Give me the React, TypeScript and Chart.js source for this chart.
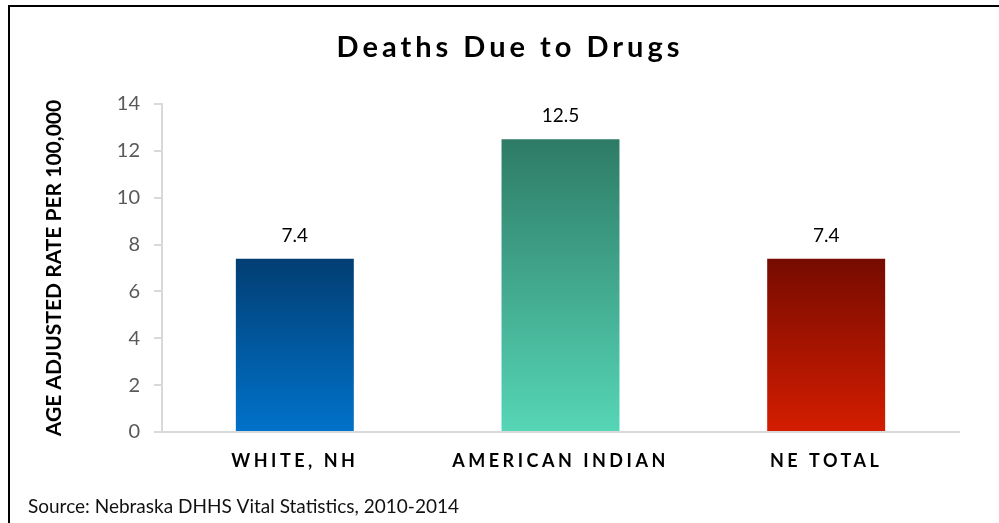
import React, { useEffect, useRef } from "react";
import { Chart, registerables } from "chart.js";

Chart.register(...registerables);

const categories = ["WHITE, NH", "AMERICAN INDIAN", "NE TOTAL"];
const rates = [7.4, 12.5, 7.4];
const yMin = 0;
const yMax = 14;
const yStep = 2;
const titleText = "Deaths Due to Drugs";
const yAxisTitle = "AGE ADJUSTED RATE PER 100,000";
const sourceText = "Source: Nebraska DHHS Vital Statistics, 2010-2014";
const gradientTops = ["#023e73", "#2e7b66", "#760b00"];
const gradientBottoms = ["#0072ca", "#56d6b6", "#d41d00"];

const FONT = "Lato, 'Open Sans', sans-serif";

const decorPlugin = {
  id: "decor",
  afterUpdate(chart: any) {
    const xs = chart.scales.x;
    if (xs && !xs.__spaced) {
      const orig = xs.drawLabels;
      xs.drawLabels = function (area: any) {
        const c = chart.ctx;
        c.save();
        (c as any).letterSpacing = "3.5px";
        orig.call(this, area);
        c.restore();
      };
      xs.__spaced = true;
    }
  },
  afterDatasetsDraw(chart: any) {
    const c = chart.ctx;
    const meta = chart.getDatasetMeta(0);
    c.save();
    c.font = `19px ${FONT}`;
    c.fillStyle = "#000000";
    c.textAlign = "center";
    c.textBaseline = "middle";
    meta.data.forEach((bar: any, i: number) => {
      c.fillText(rates[i].toFixed(1), bar.x, bar.y - 23);
    });
    c.restore();
  },
  afterDraw(chart: any) {
    const c = chart.ctx;
    c.save();
    c.fillStyle = "#000000";
    c.textBaseline = "middle";
    c.textAlign = "center";
    c.font = `bold 29px ${FONT}`;
    (c as any).letterSpacing = "4px";
    c.fillText(titleText, 510, 48);
    (c as any).letterSpacing = "0px";
    c.textAlign = "left";
    c.font = `19px ${FONT}`;
    c.fillStyle = "#111111";
    c.fillText(sourceText, 28, 507);
    c.restore();
  },
};

export default function App() {
  const ref = useRef<HTMLCanvasElement | null>(null);

  useEffect(() => {
    if (!ref.current) return;
    const chart = new Chart(ref.current, {
      type: "bar",
      data: {
        labels: categories,
        datasets: [
          {
            data: rates,
            barPercentage: 0.444,
            categoryPercentage: 1,
            borderWidth: 0,
            backgroundColor: (ctx: any) => {
              const ch = ctx.chart;
              const i = ctx.dataIndex ?? 0;
              if (!ch.chartArea || !ch.scales.y) return gradientBottoms[i];
              const ys = ch.scales.y;
              const top = ys.getPixelForValue(rates[i]);
              const bottom = ys.getPixelForValue(0);
              const g = ch.ctx.createLinearGradient(0, top, 0, bottom);
              g.addColorStop(0, gradientTops[i]);
              g.addColorStop(1, gradientBottoms[i]);
              return g;
            },
          },
        ],
      },
      options: {
        responsive: false,
        animation: false,
        layout: { padding: { left: 42, right: 40, top: 104, bottom: 50 } },
        plugins: {
          legend: { display: false },
          tooltip: { enabled: false },
          title: { display: false },
        },
        scales: {
          x: {
            grid: { display: false, drawTicks: false },
            border: { display: true, color: "#d9d9d9", width: 2 },
            ticks: {
              color: "#000000",
              font: { family: FONT, size: 18, weight: "bold" },
              padding: 18,
              maxRotation: 0,
            },
            afterFit: (s: any) => {
              s.height = 41;
            },
          },
          y: {
            min: yMin,
            max: yMax,
            grid: {
              drawOnChartArea: false,
              drawTicks: true,
              tickLength: 8,
              color: "#d9d9d9",
              lineWidth: 2,
            },
            border: { display: true, color: "#d9d9d9", width: 2 },
            ticks: {
              stepSize: yStep,
              color: "#595959",
              font: { family: FONT, size: 20 },
              padding: 14,
            },
            title: {
              display: true,
              text: yAxisTitle,
              color: "#000000",
              font: { family: FONT, size: 21, weight: "bold" },
              padding: { top: 0, bottom: 0 },
            },
            afterFit: (s: any) => {
              s.width = 120;
            },
          },
        },
      },
      plugins: [decorPlugin],
    });
    return () => chart.destroy();
  }, []);

  return (
    <div style={{ position: "absolute", left: 0, top: 0, width: 999, height: 523, overflow: "hidden", background: "#ffffff" }}>
      <canvas ref={ref} width={999} height={523} style={{ position: "absolute", left: 0, top: 0, width: 999, height: 523 }} />
      <div
        style={{
          position: "absolute",
          left: 8,
          top: 5,
          width: 1000,
          height: 600,
          borderTop: "2px solid #000",
          borderLeft: "2px solid #000",
          pointerEvents: "none",
        }}
      />
    </div>
  );
}
